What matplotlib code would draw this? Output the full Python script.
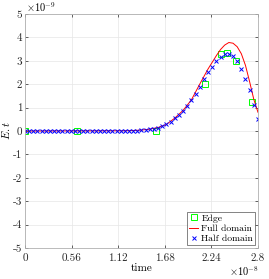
import numpy as np
import matplotlib
matplotlib.use("Agg")
import matplotlib.pyplot as plt

plt.rcParams["font.family"] = "serif"
plt.rcParams["font.serif"] = ["cmr10", "DejaVu Serif"]
plt.rcParams["mathtext.fontset"] = "cm"
plt.rcParams["axes.unicode_minus"] = False
plt.rcParams["axes.formatter.use_mathtext"] = True

# ---- data (time in 1e-8 s, E.t in 1e-9) ----
half_t = [i * 0.05 for i in range(57)]
half_v = [0.0] * 25 + [0.005, 0.01, 0.02, 0.03, 0.05, 0.07, 0.10, 0.14, 0.20,
                       0.28, 0.40, 0.56, 0.70, 0.87, 1.08, 1.33, 1.58, 1.88,
                       2.20, 2.50, 2.73, 2.97, 3.17, 3.30, 3.30, 3.20, 3.00,
                       2.64, 2.24, 1.73, 1.13, 0.50]

full_t = [0, 1.2, 1.3, 1.4, 1.5, 1.6, 1.7, 1.8, 1.9, 2.0, 2.1, 2.2, 2.3, 2.35,
          2.4, 2.45, 2.5, 2.55, 2.6, 2.65, 2.7, 2.75, 2.8]
full_v = [0, 0.01, 0.02, 0.04, 0.08, 0.15, 0.28, 0.55, 0.88, 1.33, 2.0, 2.65,
          3.22, 3.48, 3.67, 3.78, 3.75, 3.6, 3.3, 2.8, 2.1, 1.35, 0.8]

edge_t = [0, 0.62, 1.57, 2.165, 2.35, 2.43, 2.53, 2.73]
edge_v = [0, 0, 0, 2.0, 3.29, 3.35, 3.0, 1.25]

xticks = [0, 0.56, 1.12, 1.68, 2.24, 2.8]
yticks = [-5, -4, -3, -2, -1, 0, 1, 2, 3, 4, 5]

fig = plt.figure(figsize=(2.69, 2.79), dpi=100)
ax = fig.add_axes([0.093, 0.111, 0.866, 0.839])

ax.plot(edge_t, edge_v, "s", color=(0, 1, 0), mfc="none", ms=4.5, mew=0.7, label="Edge")
ax.plot(full_t, full_v, "-", color="red", lw=0.7, label="Full domain")
ax.plot(half_t, half_v, "x", color="blue", ms=3.5, mew=0.7, label="Half domain")

ax.set_xlim(0, 2.8)
ax.set_ylim(-5, 5)
ax.set_xticks(xticks)
ax.set_xticklabels([f"{v:g}" for v in xticks])
ax.set_yticks(yticks)
ax.set_yticklabels([f"{v:g}" for v in yticks])
ax.tick_params(direction="in", length=2, width=0.5, labelsize=8, colors="#262626",
               top=True, right=True)
ax.tick_params(axis="x", pad=4)
ax.tick_params(axis="y", pad=2)
ax.grid(True, color="#e6e6e6", lw=0.5)
ax.set_axisbelow(True)
for s in ax.spines.values():
    s.set_color("#b0b0b0")
    s.set_linewidth(0.6)

ax.set_xlabel("time", fontsize=8, labelpad=0)
ax.set_ylabel("$E.t$", fontsize=8, labelpad=0)
ax.yaxis.set_label_coords(-0.055, 0.5)

fig.text(0.097, 0.998, r"$\times10^{-9}$", fontsize=7.5, ha="left", va="top")
fig.text(0.962, 0.003, r"$\times10^{-8}$", fontsize=7.5, ha="right", va="bottom")

leg = ax.legend(loc="lower right", fontsize=7, frameon=True, fancybox=False,
                handlelength=1.0, handletextpad=0.3, borderpad=0.2,
                labelspacing=0.15, borderaxespad=0.3)
leg.get_frame().set_edgecolor("#262626")
leg.get_frame().set_linewidth(0.5)

plt.savefig("out.png", dpi=100)
